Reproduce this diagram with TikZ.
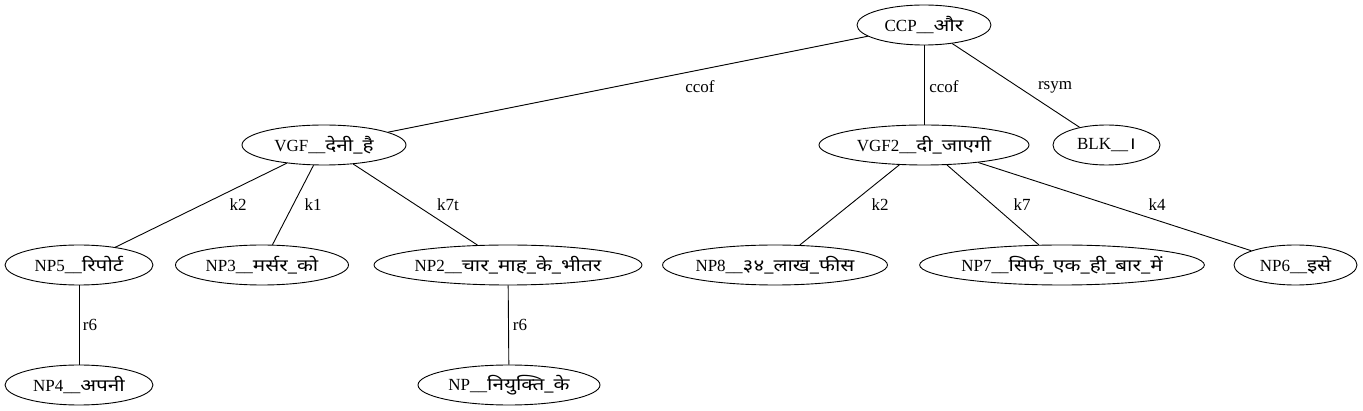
\documentclass[tikz,border=0pt]{standalone}
\usepackage{fontspec}
\setmainfont{Liberation Serif}
\newfontfamily\dev[Script=Devanagari,Scale=1.0,FakeStretch=1.22]{Noto Sans}
\usetikzlibrary{shapes.geometric}
\tikzset{
  nd/.style={draw, ellipse, inner sep=0pt, minimum height=40pt, line width=0.9pt,
    font=\fontsize{17}{19}\selectfont},
  lbl/.style={inner sep=0pt, font=\fontsize{17}{19}\selectfont},
  edge/.style={draw, line width=0.9pt}
}
\begin{document}
\begin{tikzpicture}[x=1pt,y=-1pt]
\useasboundingbox[fill=white] (0,0) rectangle (1363,411);
\node[nd, minimum width=134pt] (ccp) at (924,25) {CCP\_\_{\dev और}};
\node[nd, minimum width=164pt] (vgf) at (324,145) {VGF\_\_{\dev देनी\_है}};
\node[nd, minimum width=210pt] (vgf2) at (924,145) {VGF2\_\_{\dev दी\_जाएगी}};
\node[nd, minimum width=107pt] (blk) at (1106.5,145) {BLK\_\_{\dev ।}};
\node[nd, minimum width=148pt] (np5) at (79,265) {NP5\_\_{\dev रिपोर्ट}};
\node[nd, minimum width=173pt] (np3) at (262,265) {NP3\_\_{\dev मर्सर\_को}};
\node[nd, minimum width=268pt] (np2) at (508,265) {NP2\_\_{\dev चार\_माह\_के\_भीतर}};
\node[nd, minimum width=222pt] (np8) at (775,265) {NP8\_\_{\dev ३४\_लाख\_फीस}};
\node[nd, minimum width=281pt] (np7) at (1062,265) {NP7\_\_{\dev सिर्फ\_एक\_ही\_बार\_में}};
\node[nd, minimum width=123pt] (np6) at (1295.5,265) {NP6\_\_{\dev इसे}};
\node[nd, minimum width=148pt] (np4) at (79,385) {NP4\_\_{\dev अपनी}};
\node[nd, minimum width=182pt] (np) at (509,385) {NP\_\_{\dev नियुक्ति\_के}};

\draw[edge] (ccp) -- (vgf);
\draw[edge] (ccp) -- (vgf2);
\draw[edge] (ccp) -- (blk);
\draw[edge] (vgf) -- (np5);
\draw[edge] (vgf) -- (np3);
\draw[edge] (vgf) -- (np2);
\draw[edge] (vgf2) -- (np8);
\draw[edge] (vgf2) -- (np7);
\draw[edge] (vgf2) -- (np6);
\draw[edge] (np5) -- (np4);
\draw[edge] (np2) -- (np);

\node[lbl] (l1) at (700,87) {ccof};
\node[lbl] (l2) at (944,87) {ccof};
\node[lbl] (l3) at (1055,87) {rsym};
\node[lbl] (l4) at (238,205) {k2};
\node[lbl] (l5) at (313,205) {k1};
\node[lbl] (l6) at (448,205) {k7t};
\node[lbl] (l7) at (880,205) {k2};
\node[lbl] (l8) at (1022,205) {k7};
\node[lbl] (l9) at (1157,205) {k4};
\node[lbl] (l10) at (90,325) {r6};
\node[lbl] (l11) at (520,325) {r6};
\end{tikzpicture}
\end{document}
